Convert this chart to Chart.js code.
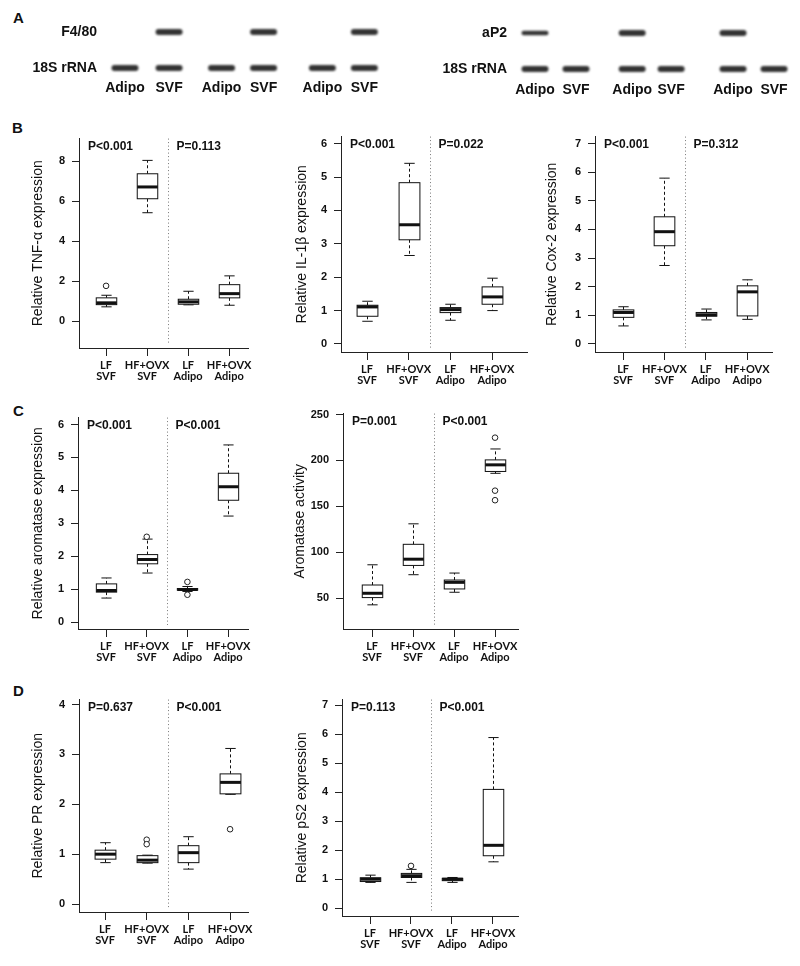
<!DOCTYPE html>
<html lang="en">
<head>
<meta charset="UTF-8">
<title>Adipose inflammation and aromatase box plots</title>
<script src="https://cdn.jsdelivr.net/npm/chart.js"></script>
<style>
  body { margin: 0; background: #fff; }
  #fig { position: relative; width: 800px; height: 966px; overflow: hidden; font-family: "Liberation Sans", Arial, sans-serif; }
  #fig canvas { position: absolute; }
  .letter { position: absolute; font-weight: bold; font-size: 15px; line-height: 15px; color: #111; }
</style>
</head>
<body>
<div id="fig">
  <div class="letter" style="left:13px;top:10px">A</div>
  <div class="letter" style="left:12px;top:120px">B</div>
  <div class="letter" style="left:13px;top:403px">C</div>
  <div class="letter" style="left:13px;top:683px">D</div>
</div>
<script>
// ---- panel A (blots) ----
const laneNames = ['Adipo', 'SVF', 'Adipo', 'SVF', 'Adipo', 'SVF'];
const lanesLeft = [0, 1.05, 2.3, 3.3, 4.7, 5.7];
const lanesRight = [0, 1.0, 2.37, 3.32, 4.83, 5.83];
const rowsLeft = ['F4/80', '18S rRNA'];
const rowsRight = ['aP2', '18S rRNA'];
const f480Bands = [0, 1, 0, 1, 0, 1];
const rrnaBandsLeft = [1, 1, 1, 1, 1, 1];
const ap2Bands = [0.6, 0, 1, 0, 1, 0];
const rrnaBandsRight = [1, 1, 1, 1, 1, 1];

// ---- panels B-D (box plots) ----
const categories = [['LF', 'SVF'], ['HF+OVX', 'SVF'], ['LF', 'Adipo'], ['HF+OVX', 'Adipo']];
const catPos = [1, 2, 3, 4];

const tnfLow = [0.72, 5.43, 0.82, 0.80];
const tnfQ1 = [0.83, 6.13, 0.85, 1.17];
const tnfMed = [0.92, 6.72, 0.97, 1.38];
const tnfQ3 = [1.17, 7.38, 1.10, 1.83];
const tnfHigh = [1.30, 8.05, 1.50, 2.27];
const tnfOut = [[1, 1.77]];
const tnfTicks = [0, 2, 4, 6, 8];

const il1bLow = [0.68, 2.65, 0.71, 1.00];
const il1bQ1 = [0.83, 3.12, 0.94, 1.19];
const il1bMed = [1.11, 3.57, 1.03, 1.41];
const il1bQ3 = [1.16, 4.83, 1.09, 1.71];
const il1bHigh = [1.28, 5.41, 1.19, 1.97];
const il1bOut = [];
const il1bTicks = [0, 1, 2, 3, 4, 5, 6];

const cox2Low = [0.63, 2.74, 0.84, 0.86];
const cox2Q1 = [0.93, 3.43, 0.97, 0.98];
const cox2Med = [1.10, 3.92, 1.02, 1.82];
const cox2Q3 = [1.19, 4.44, 1.10, 2.03];
const cox2High = [1.30, 5.79, 1.22, 2.24];
const cox2Out = [];
const cox2Ticks = [0, 1, 2, 3, 4, 5, 6, 7];

const aromLow = [0.73, 1.49, 0.93, 3.22];
const aromQ1 = [0.91, 1.77, 0.97, 3.70];
const aromMed = [0.96, 1.90, 0.99, 4.11];
const aromQ3 = [1.16, 2.05, 1.02, 4.52];
const aromHigh = [1.34, 2.52, 1.08, 5.38];
const aromOut = [[2, 2.59], [3, 1.22], [3, 0.83]];
const aromTicks = [0, 1, 2, 3, 4, 5, 6];

const actLow = [42.8, 75.6, 56.5, 186];
const actQ1 = [50.7, 85.7, 60.1, 188];
const actMed = [55.4, 92.5, 67.3, 195.2];
const actQ3 = [64.4, 108.7, 69.8, 200.6];
const actHigh = [86.4, 131, 77.4, 212.5];
const actOut = [[4, 224.8], [4, 167.1], [4, 156.7]];
const actTicks = [50, 100, 150, 200, 250];

const prLow = [0.83, 0.82, 0.70, 2.20];
const prQ1 = [0.90, 0.83, 0.83, 2.21];
const prMed = [1.00, 0.88, 1.03, 2.44];
const prQ3 = [1.08, 0.97, 1.17, 2.61];
const prHigh = [1.23, 0.98, 1.35, 3.12];
const prOut = [[2, 1.29], [2, 1.20], [4, 1.50]];
const prTicks = [0, 1, 2, 3, 4];

const ps2Low = [0.89, 0.89, 0.89, 1.60];
const ps2Q1 = [0.92, 1.06, 0.95, 1.81];
const ps2Med = [1.00, 1.12, 1.00, 2.17];
const ps2Q3 = [1.05, 1.20, 1.03, 4.10];
const ps2High = [1.14, 1.34, 1.06, 5.89];
const ps2Out = [[2, 1.46]];
const ps2Ticks = [0, 1, 2, 3, 4, 5, 6, 7];

const fig = document.getElementById('fig');
const FONT = '"Liberation Sans", Arial, sans-serif';

function addCanvas(left, top, w, h) {
  const cv = document.createElement('canvas');
  cv.width = w; cv.height = h;
  cv.style.left = left + 'px';
  cv.style.top = top + 'px';
  fig.appendChild(cv);
  return cv;
}

// blot drawn at lane / row positions of the chart scales
function blotPlugin(lanes, rows, bands, labelRow) {
  return {
    id: 'blot',
    afterDraw(chart) {
      const { ctx, scales: { x, y } } = chart;
      ctx.save();
      bands.forEach((row, r) => {
        const py = y.getPixelForValue(r);
        row.forEach((v, i) => {
          if (!v) return;
          const px = x.getPixelForValue(lanes[i]);
          const bh = 2.5 + 3.5 * v;
          ctx.filter = 'blur(1.1px)';
          ctx.fillStyle = '#333';
          ctx.beginPath();
          ctx.roundRect(px - 13.5, py - bh / 2, 27, bh, bh / 2);
          ctx.fill();
        });
      });
      ctx.filter = 'none';
      ctx.fillStyle = '#111';
      ctx.font = 'bold 14px ' + FONT;
      ctx.textBaseline = 'middle';
      ctx.textAlign = 'right';
      const x0 = x.getPixelForValue(lanes[0]) - 28;
      rows.forEach((name, r) => ctx.fillText(name, x0, y.getPixelForValue(r)));
      ctx.textAlign = 'center';
      lanes.forEach((l, i) => ctx.fillText(laneNames[i], x.getPixelForValue(l), y.getPixelForValue(labelRow)));
      ctx.restore();
    }
  };
}

function blotChart(left, lanes, rows, bands, xr, yr, labelRow) {
  const cv = addCanvas(left, 0, 400, 110);
  new Chart(cv, {
    type: 'scatter',
    data: { datasets: [] },
    options: {
      responsive: false, animation: false, devicePixelRatio: 1,
      layout: { padding: 0 },
      plugins: { legend: { display: false }, tooltip: { enabled: false } },
      scales: {
        x: { type: 'linear', display: false, min: xr[0], max: xr[1] },
        y: { type: 'linear', display: false, reverse: true, min: yr[0], max: yr[1] }
      }
    },
    plugins: [blotPlugin(lanes, rows, bands, labelRow)]
  });
}

blotChart(0, lanesLeft, rowsLeft, [f480Bands, rrnaBandsLeft], [-2.976, 6.548], [-0.889, 2.167], 1.56);
blotChart(400, lanesRight, rowsRight, [ap2Bands, rrnaBandsRight], [-3.293, 6.463], [-0.917, 2.139], 1.58);

// boxes, whiskers, medians, divider and P labels through the chart scales
function boxPlugin(pn) {
  return {
    id: 'boxes',
    beforeDatasetsDraw(chart) {
      const { ctx, chartArea: ca, scales: { x, y } } = chart;
      const line = (x1, y1, x2, y2) => { ctx.beginPath(); ctx.moveTo(x1, y1); ctx.lineTo(x2, y2); ctx.stroke(); };
      ctx.save();
      const dx = Math.round(x.getPixelForValue(2.5)) + 0.5;
      ctx.strokeStyle = '#777';
      ctx.lineWidth = 1;
      ctx.setLineDash([1, 2.5]);
      line(dx, ca.top, dx, ca.bottom - 4);
      const hw = x.getPixelForValue(1.25) - x.getPixelForValue(1);
      ctx.strokeStyle = '#111';
      catPos.forEach((c, i) => {
        const cx = Math.round(x.getPixelForValue(c)) + 0.5;
        const yl = y.getPixelForValue(pn.low[i]);
        const y1 = y.getPixelForValue(pn.q1[i]);
        const ym = y.getPixelForValue(pn.med[i]);
        const y3 = y.getPixelForValue(pn.q3[i]);
        const yh = y.getPixelForValue(pn.high[i]);
        ctx.lineWidth = 1;
        ctx.setLineDash([3, 2.5]);
        line(cx, y3, cx, yh);
        line(cx, y1, cx, yl);
        ctx.setLineDash([]);
        line(cx - hw / 2, yh, cx + hw / 2, yh);
        line(cx - hw / 2, yl, cx + hw / 2, yl);
        ctx.fillStyle = '#fff';
        ctx.fillRect(cx - hw, y3, 2 * hw, y1 - y3);
        ctx.strokeRect(cx - hw, y3, 2 * hw, y1 - y3);
        ctx.lineWidth = 3;
        line(cx - hw, ym, cx + hw, ym);
      });
      ctx.fillStyle = '#111';
      ctx.font = 'bold 12px ' + FONT;
      ctx.textBaseline = 'middle';
      ctx.textAlign = 'left';
      ctx.fillText(pn.p[0], ca.left + 9, ca.top + 8);
      ctx.fillText(pn.p[1], dx + 8, ca.top + 8);
      ctx.restore();
    }
  };
}

function boxChart(pn) {
  const g = pn.geo;
  const left = Math.max(0, g.ax - 79);
  const top = g.top - 12;
  const w = g.right - left + 14;
  const h = g.bottom - top + 46;
  const cv = addCanvas(left, top, w, h);
  new Chart(cv, {
    type: 'scatter',
    data: {
      datasets: [{
        data: pn.out.map(o => ({ x: o[0], y: o[1] })),
        pointRadius: 2.8,
        pointBackgroundColor: '#fff',
        pointBorderColor: '#222',
        pointBorderWidth: 1
      }]
    },
    options: {
      responsive: false, animation: false, devicePixelRatio: 1,
      layout: { padding: { top: 12, right: 14, left: 0, bottom: 0 } },
      plugins: { legend: { display: false }, tooltip: { enabled: false } },
      scales: {
        x: {
          type: 'linear', min: pn.xMin, max: pn.xMax,
          afterBuildTicks: s => { s.ticks = catPos.map(v => ({ value: v })); },
          afterFit: s => { s.height = 46; },
          grid: { drawOnChartArea: false, drawTicks: true, tickLength: 8, color: '#222' },
          border: { color: '#222', width: 1 },
          ticks: {
            autoSkip: false, maxRotation: 0, padding: 4, color: '#111',
            font: { family: 'Lato, ' + FONT, weight: 'bold', size: 11, lineHeight: 1.0 },
            callback: v => categories[catPos.indexOf(v)]
          }
        },
        y: {
          type: 'linear', min: pn.yMin, max: pn.yMax,
          afterBuildTicks: s => { s.ticks = pn.yTicks.map(v => ({ value: v })); },
          afterFit: s => { s.width = g.ax - left; },
          grid: { drawOnChartArea: false, drawTicks: true, tickLength: 7, color: '#222' },
          border: { color: '#222', width: 1 },
          ticks: { padding: 7, color: '#111', font: { family: FONT, weight: 'bold', size: 11 }, callback: v => v },
          title: {
            display: true, text: pn.title, color: '#111',
            font: { family: FONT, size: 14 },
            padding: { top: g.tx - left - 8.4, bottom: 0 }
          }
        }
      }
    },
    plugins: [boxPlugin(pn)]
  });
}

const panels = [
  { title: 'Relative TNF-α expression', p: ['P<0.001', 'P=0.113'],
    low: tnfLow, q1: tnfQ1, med: tnfMed, q3: tnfQ3, high: tnfHigh, out: tnfOut, yTicks: tnfTicks,
    yMin: -1.34, yMax: 9.14, xMin: 0.34, xMax: 4.46, geo: { ax: 79, top: 137, bottom: 348, right: 248, tx: 38 } },
  { title: 'Relative IL-1β expression', p: ['P<0.001', 'P=0.022'],
    low: il1bLow, q1: il1bQ1, med: il1bMed, q3: il1bQ3, high: il1bHigh, out: il1bOut, yTicks: il1bTicks,
    yMin: -0.24, yMax: 6.21, xMin: 0.376, xMax: 4.84, geo: { ax: 341, top: 135, bottom: 352, right: 527, tx: 302 } },
  { title: 'Relative Cox-2 expression', p: ['P<0.001', 'P=0.312'],
    low: cox2Low, q1: cox2Q1, med: cox2Med, q3: cox2Q3, high: cox2High, out: cox2Out, yTicks: cox2Ticks,
    yMin: -0.28, yMax: 7.24, xMin: 0.32, xMax: 4.6, geo: { ax: 595, top: 135, bottom: 352, right: 772, tx: 552 } },
  { title: 'Relative aromatase expression', p: ['P<0.001', 'P<0.001'],
    low: aromLow, q1: aromQ1, med: aromMed, q3: aromQ3, high: aromHigh, out: aromOut, yTicks: aromTicks,
    yMin: -0.21, yMax: 6.21, xMin: 0.31, xMax: 4.49, geo: { ax: 78, top: 416, bottom: 629, right: 248, tx: 38 } },
  { title: 'Aromatase activity', p: ['P=0.001', 'P<0.001'],
    low: actLow, q1: actQ1, med: actMed, q3: actQ3, high: actHigh, out: actOut, yTicks: actTicks,
    yMin: 16.5, yMax: 251, xMin: 0.29, xMax: 4.56, geo: { ax: 343, top: 412, bottom: 629, right: 518, tx: 300 } },
  { title: 'Relative PR expression', p: ['P=0.637', 'P<0.001'],
    low: prLow, q1: prQ1, med: prMed, q3: prQ3, high: prHigh, out: prOut, yTicks: prTicks,
    yMin: -0.16, yMax: 4.1, xMin: 0.376, xMax: 4.43, geo: { ax: 79, top: 698, bottom: 912, right: 248, tx: 38 } },
  { title: 'Relative pS2 expression', p: ['P=0.113', 'P<0.001'],
    low: ps2Low, q1: ps2Q1, med: ps2Med, q3: ps2Q3, high: ps2High, out: ps2Out, yTicks: ps2Ticks,
    yMin: -0.27, yMax: 7.2, xMin: 0.317, xMax: 4.61, geo: { ax: 342, top: 698, bottom: 916, right: 518, tx: 302 } }
];

panels.forEach(boxChart);
</script>
</body>
</html>
